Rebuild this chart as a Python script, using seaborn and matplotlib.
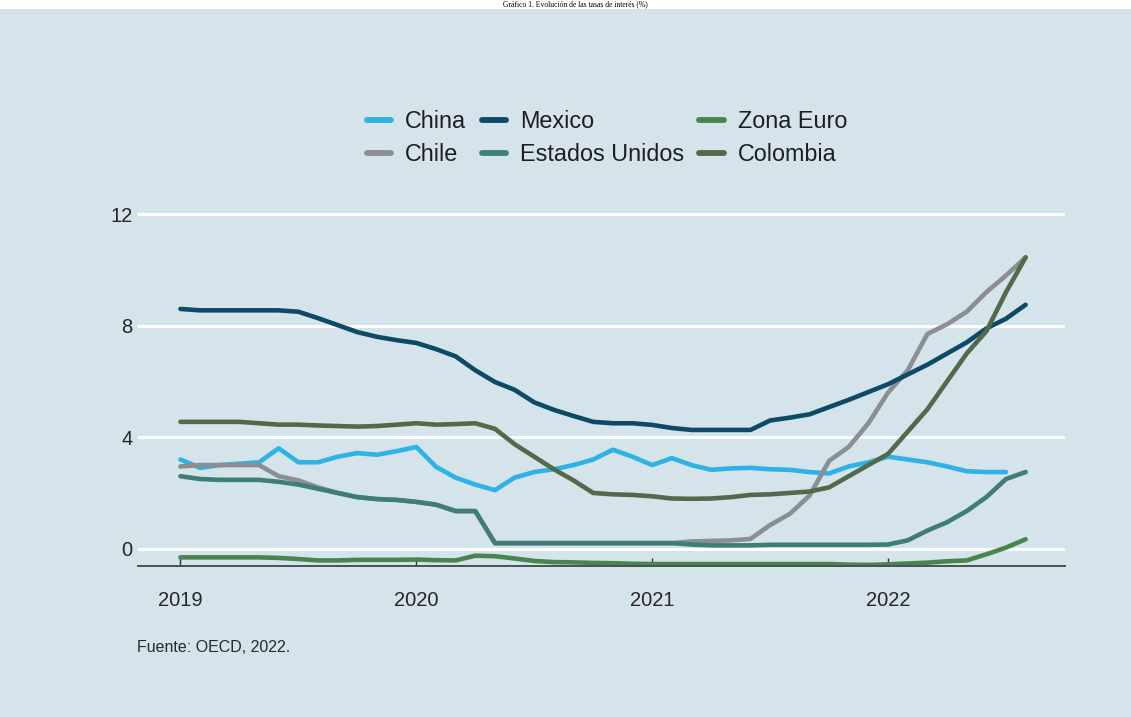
import numpy as np
import pandas as pd
import matplotlib
matplotlib.use("Agg")
import matplotlib.pyplot as plt
import seaborn as sns

# Monthly policy / short-term interest rates (%), Jan 2019 - Aug 2022
china = [3.2, 2.9, 3.0, 3.05, 3.1, 3.6, 3.1, 3.1, 3.3, 3.43, 3.37, 3.5,
         3.65, 2.94, 2.55, 2.3, 2.1, 2.55, 2.75, 2.85, 3.0, 3.2, 3.55, 3.3,
         3.0, 3.25, 3.0, 2.83, 2.88, 2.9, 2.85, 2.83, 2.75, 2.7, 2.95, 3.1,
         3.3, 3.2, 3.1, 2.95, 2.78, 2.75, 2.75]
chile = [2.95, 3.0, 3.0, 3.0, 3.0, 2.6, 2.45, 2.2, 2.0, 1.85, 1.78, 1.75,
         1.68, 1.58, 1.35, 1.35, 0.2, 0.2, 0.2, 0.2, 0.2, 0.2, 0.2, 0.2,
         0.2, 0.2, 0.26, 0.28, 0.3, 0.35, 0.85, 1.25, 1.9, 3.15, 3.65, 4.5,
         5.6, 6.4, 7.7, 8.05, 8.5, 9.2, 9.8, 10.45]
mexico = [8.6, 8.55, 8.55, 8.55, 8.55, 8.55, 8.5, 8.27, 8.02, 7.77, 7.6, 7.48,
          7.38, 7.16, 6.9, 6.4, 5.98, 5.7, 5.25, 4.98, 4.76, 4.55, 4.5, 4.5,
          4.44, 4.33, 4.26, 4.26, 4.26, 4.26, 4.6, 4.7, 4.82, 5.08, 5.34, 5.62,
          5.9, 6.25, 6.6, 7.0, 7.4, 7.9, 8.25, 8.75]
estados_unidos = [2.6, 2.5, 2.47, 2.47, 2.47, 2.4, 2.3, 2.15, 2.0, 1.85, 1.78, 1.75,
                  1.68, 1.58, 1.35, 1.35, 0.2, 0.2, 0.2, 0.2, 0.2, 0.2, 0.2, 0.2,
                  0.2, 0.2, 0.15, 0.12, 0.12, 0.12, 0.14, 0.14, 0.14, 0.14, 0.14, 0.14,
                  0.15, 0.3, 0.65, 0.95, 1.35, 1.85, 2.5, 2.75]
zona_euro = [-0.31, -0.31, -0.31, -0.31, -0.31, -0.33, -0.37, -0.42, -0.42, -0.4, -0.4, -0.4,
             -0.39, -0.41, -0.42, -0.25, -0.27, -0.35, -0.44, -0.48, -0.49, -0.51, -0.52, -0.54,
             -0.55, -0.55, -0.55, -0.55, -0.55, -0.55, -0.55, -0.55, -0.55, -0.55, -0.57, -0.58,
             -0.56, -0.53, -0.5, -0.45, -0.42, -0.2, 0.04, 0.34]
colombia = [4.55, 4.55, 4.55, 4.55, 4.5, 4.45, 4.45, 4.42, 4.4, 4.38, 4.4, 4.45,
            4.5, 4.45, 4.47, 4.5, 4.3, 3.75, 3.3, 2.85, 2.45, 2.0, 1.95, 1.93,
            1.88, 1.8, 1.79, 1.8, 1.85, 1.93, 1.95, 2.0, 2.05, 2.2, 2.6, 3.0,
            3.4, 4.2, 5.0, 6.0, 7.0, 7.8, 9.2, 10.45]

series = {
    "China": china,
    "Chile": chile,
    "Mexico": mexico,
    "Estados Unidos": estados_unidos,
    "Zona Euro": zona_euro,
    "Colombia": colombia,
}
colors = {
    "China": "#2db3e5",
    "Chile": "#8b8f93",
    "Mexico": "#0d4a68",
    "Estados Unidos": "#3f7d79",
    "Zona Euro": "#4a8550",
    "Colombia": "#53694b",
}
year_ticks = [2019, 2020, 2021, 2022]
y_ticks = [0, 4, 8, 12]

rows = []
for name, vals in series.items():
    for i, v in enumerate(vals):
        rows.append({"fecha": 2019 + i / 12, "tasa": v, "pais": name})
df = pd.DataFrame(rows)

bg = "#d5e3ea"
sns.set_theme(style="white")
plt.rcParams["font.family"] = ["Liberation Sans", "DejaVu Sans"]

fig = plt.figure(figsize=(11.31, 7.17), dpi=100, facecolor=bg)
ax = fig.add_axes([0.122, 0.2106, 0.8196, 0.4985])
ax.set_facecolor(bg)

sns.lineplot(data=df, x="fecha", y="tasa", hue="pais",
             hue_order=list(series.keys()), palette=colors,
             linewidth=3.3, ax=ax, legend=False)

ax.set_xlim(2018.82, 2022.75)
ax.set_ylim(-0.62, 12.2)
ax.set_xlabel("")
ax.set_ylabel("")
ax.set_xticks(year_ticks)
ax.set_xticklabels([str(y) for y in year_ticks])
ax.set_yticks(y_ticks)
ax.set_yticklabels([str(v) for v in y_ticks])
for v in y_ticks:
    ax.axhline(v, color="white", lw=2.2, zorder=0.5)

for side in ["left", "right", "top"]:
    ax.spines[side].set_visible(False)
ax.spines["bottom"].set_color("#4a4f55")
ax.spines["bottom"].set_linewidth(1.4)
ax.tick_params(axis="x", direction="in", length=6, width=1, color="#333333",
               pad=18, labelsize=14.5, labelcolor="#262626", bottom=True)
ax.tick_params(axis="y", length=0, pad=4, labelsize=14.5, labelcolor="#262626")

handles = [plt.Line2D([], [], color=colors[n], lw=4.2) for n in series]
fig.legend(handles, list(series.keys()), loc="center", ncol=3,
           bbox_to_anchor=(607 / 1131, 1 - 138 / 717), frameon=False,
           fontsize=16.8, handlelength=1.05, handletextpad=0.6,
           columnspacing=0.65, labelspacing=0.4, labelcolor="#1e1e1e",
           borderpad=0.2)

fig.text(137 / 1131, 1 - 647 / 717, "Fuente: OECD, 2022.", fontsize=11.5,
         color="#2a2a2a", va="center", ha="left")

# narrow white caption band along the top edge
band_h = 9 / 717
fig.patches.append(plt.Rectangle((0, 1 - band_h), 1, band_h,
                                 transform=fig.transFigure, facecolor="white",
                                 edgecolor="none", zorder=0))
fig.text(575 / 1131, 1 - 6.5 / 717,
         "Gráfico 1. Evolución de las tasas de interés (%)",
         family=["Liberation Serif", "DejaVu Serif"], fontsize=5.5,
         color="black", ha="center", va="baseline")

fig.savefig("out.png", dpi=100, facecolor=bg)
